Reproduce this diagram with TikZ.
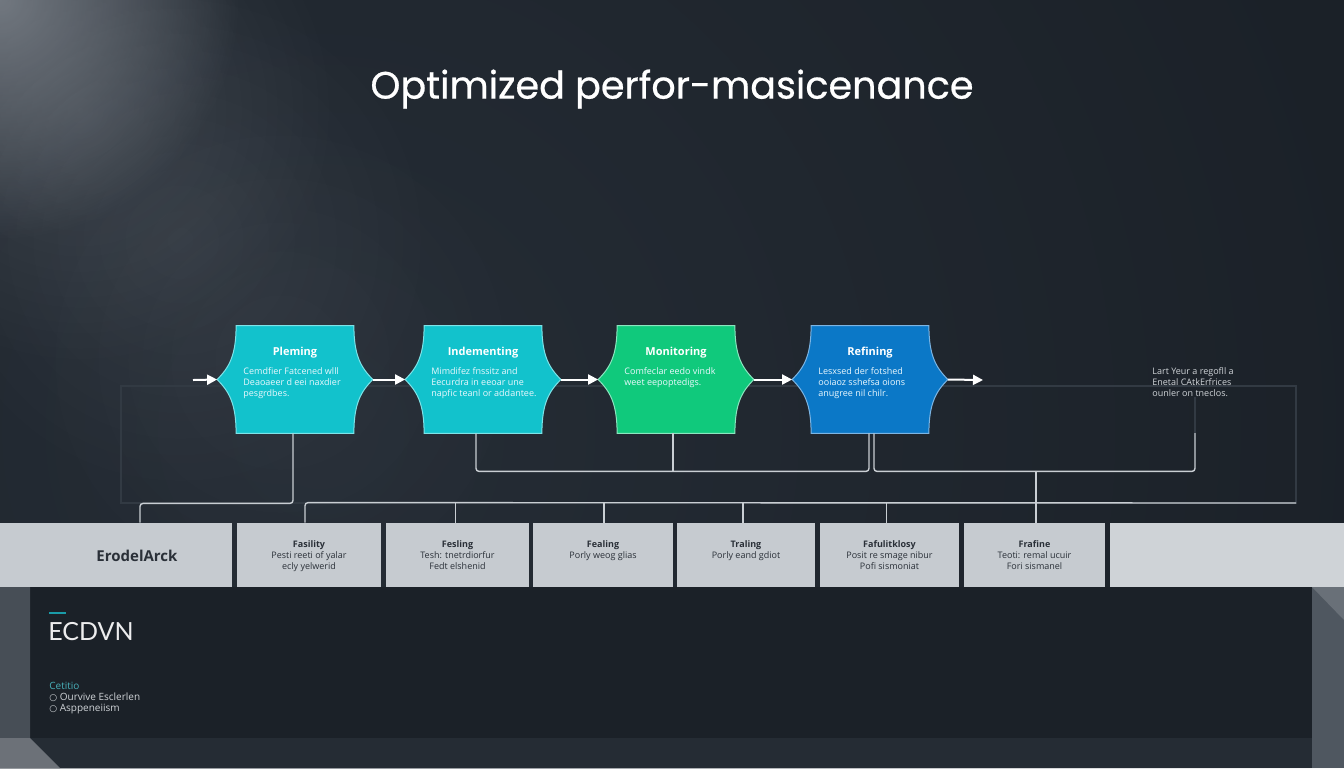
\documentclass[tikz,border=0pt]{standalone}
\usepackage{fontspec}
\setmainfont{Open Sans}
\newfontfamily\titlefont{Poppins}[FakeBold=0.6]
\newfontfamily\latofont{Lato}
\newfontfamily\djv{DejaVu Sans}
\usetikzlibrary{arrows.meta,calc,fadings}
\definecolor{bg}{HTML}{1B2128}
\definecolor{bgmid}{HTML}{2A323C}
\definecolor{glow}{HTML}{8A9098}
\definecolor{cyanA}{HTML}{12C2CC}
\definecolor{cyanB}{HTML}{7EE3E8}
\definecolor{greenA}{HTML}{10C97C}
\definecolor{greenB}{HTML}{8BE6BF}
\definecolor{blueA}{HTML}{0B78C7}
\definecolor{blueB}{HTML}{7DB5E3}
\definecolor{linec}{HTML}{C9CED3}
\definecolor{dimline}{HTML}{323A43}
\definecolor{boxc}{HTML}{C6CBD0}
\definecolor{boxtext}{HTML}{2A3038}
\definecolor{panel}{HTML}{1B2128}
\definecolor{strip}{HTML}{252C34}
\definecolor{bevelL}{HTML}{474E56}
\definecolor{bevelR}{HTML}{4F5760}
\definecolor{teal}{HTML}{1A9BA8}
\definecolor{softw}{HTML}{D0D4D8}
\tikzfading[name=radfade, inner color=transparent!0, outer color=transparent!100]
\tikzset{
  procbox/.style={shape=rectangle, inner sep=0pt, minimum width=77.5pt, minimum height=53.5pt},
  proctitle/.style={text=white, font=\bfseries\fontsize{5.5}{6.5}\selectfont, inner sep=0pt},
  procbody/.style={anchor=north west, text=white!92!cyan, align=left, font=\fontsize{4.5}{5.5}\selectfont, inner sep=0pt},
  conn/.style={draw=linec, line width=0.7pt, rounded corners=1.5pt},
  arr/.style={draw=white, line width=1pt, -{Triangle[length=5pt,width=5pt]}},
  bbx/.style={shape=rectangle, fill=boxc, inner sep=0pt, minimum height=32pt},
  btext/.style={anchor=north, text=boxtext, align=center, font=\fontsize{4.5}{5.5}\selectfont, inner sep=0pt},
  glowspot/.style={fill=glow, path fading=radfade},
}
\newcommand\procnode[6]{%
  \node[procbox] (#1) at (#2,379.5) {};
  \path[fill=#3, draw=#4, line width=0.5pt]
    ($(#1.north west)+(19,0)$) -- ($(#1.north east)+(-19,0)$)
    .. controls +(0,30) and +(-12,-12) .. (#1.east)
    .. controls +(-12,12) and +(0,-30) .. ($(#1.south east)+(-19,0)$)
    -- ($(#1.south west)+(19,0)$)
    .. controls +(0,-30) and +(12,12) .. (#1.west)
    .. controls +(12,-12) and +(0,30) .. ($(#1.north west)+(19,0)$) -- cycle;
  \node[proctitle] (#1t) at ($(#1.center)+(0,-27)$) {#5};
  \node[procbody] (#1b) at ($(#1.center)+(-52,-12.5)$) {#6};
}
\begin{document}
\begin{tikzpicture}[x=0.5pt,y=-0.5pt]
\useasboundingbox (0,0) rectangle (1344,768);
% background
\fill[bg] (0,0) rectangle (1344,768);
\begin{scope}
  \clip (0,0) rectangle (1344,768);
  \fill[bgmid, path fading=radfade, fill opacity=0.7] (320,430) circle (1100);
  \fill[glowspot, fill opacity=0.75] (0,0) circle (240);
  \fill[glowspot, fill opacity=0.2] (80,110) circle (260);
  \fill[glowspot, fill opacity=0.12] (180,240) circle (260);
  \fill[glowspot, fill opacity=0.07] (280,360) circle (260);
\end{scope}
% title
\node[text=white, font=\titlefont, inner sep=0pt] (title) at (672,89) {\resizebox{301.5pt}{!}{Optimized perfor-masicenance}};
% faint outline
\draw[dimline, line width=0.6pt] (121,386) rectangle (1296,503);
% process nodes
\procnode{p1}{295}{cyanA}{cyanB}{Pleming}{Cemdfier Fatcened wlll\\Deaoaeer d eei naxdier\\pesgrdbes.}
\procnode{p2}{483}{cyanA}{cyanB}{Indementing}{Mimdifez fnssitz and\\Eecurdra in eeoar une\\napfic teanl or addantee.}
\procnode{p3}{676}{greenA}{greenB}{Monitoring}{Comfeclar eedo vindk\\weet eepoptedigs.}
\procnode{p4}{870}{blueA}{blueB}{Refining}{Lesxsed der fotshed\\ooiaoz sshefsa oions\\anugree nil chilr.}
% right note
\node[anchor=north west, text=softw, align=left, font=\fontsize{4.5}{5.5}\selectfont, inner sep=0pt] (rt) at (1152,367) {Lart Yeur a regofll a\\Enetal CAtkErfrices\\ounler on tneclos.};
% arrows
\coordinate (a0) at (193,380);
\coordinate (a5) at (983,380);
\draw[arr] (a0) -- (p1.west);
\draw[arr] (p1.east) -- (p2.west);
\draw[arr] (p2.east) -- (p3.west);
\draw[arr] (p3.east) -- (p4.west);
\draw[arr] (p4.east) -- (a5);
% bottom boxes
\node[bbx, minimum width=116pt] (b0) at (116,555) {};
\node[bbx, minimum width=72pt] (b1) at (309,555) {};
\node[bbx, minimum width=71.5pt] (b2) at (457.5,555) {};
\node[bbx, minimum width=70pt] (b3) at (603,555) {};
\node[bbx, minimum width=69pt] (b4) at (746,555) {};
\node[bbx, minimum width=69.5pt] (b5) at (889.5,555) {};
\node[bbx, minimum width=70.5pt] (b6) at (1034.5,555) {};
\node[bbx, minimum width=117pt, fill=boxc!85!white] (b7) at (1227,555) {};
\node[text=boxtext, font=\bfseries\fontsize{7.5}{9}\selectfont, inner sep=0pt] (b0t) at (137,556) {ErodelArck};
\node[btext] (b1t) at (309,540) {\textbf{Fasility}\\Pesti reeti of yalar\\ecly yelwerid};
\node[btext] (b2t) at (457.5,540) {\textbf{Fesling}\\Tesh: tnetrdiorfur\\Fedt elshenid};
\node[btext] (b3t) at (603,540) {\textbf{Fealing}\\Porly weog glias};
\node[btext] (b4t) at (746,540) {\textbf{Traling}\\Porly eand gdiot};
\node[btext] (b5t) at (889.5,540) {\textbf{Fafulitklosy}\\Posit re smage nibur\\Pofi sismoniat};
\node[btext] (b6t) at (1034.5,540) {\textbf{Frafine}\\Teoti: remal ucuir\\Fori sismanel};
% connectors
\coordinate (busR) at (1296,503);
\coordinate (rtc) at (1195,433);
\draw[conn] ($(p1.south)+(-2,0)$) -- ++(0,70) -| ($(b0.north)+(24,0)$);
\draw[conn] ($(b1.north)+(-4,0)$) -- ++(0,-20) -- (busR);
\draw[conn] ($(b2.north)+(-2,0)$) -- ++(0,-20);
\draw[conn] ($(b3.north)+(1,0)$) -- ++(0,-20);
\draw[conn] ($(b4.north)+(-3,0)$) -- ++(0,-20);
\draw[conn] ($(b5.north)+(-3,0)$) -- ++(0,-20);
\draw[conn] ($(b6.north)+(1.5,0)$) -- ++(0,-52);
\draw[conn] ($(p2.south)+(-7,0)$) -- ++(0,38) -| ($(p4.south)+(-1,0)$);
\draw[conn] ($(p3.south)+(-3,0)$) -- ++(0,38);
\draw[conn] ($(p4.south)+(4,0)$) -- ++(0,38) -| (rtc);
\draw[dimline, line width=0.6pt] (rtc) -- (rt.south -| rtc);
% bottom panel
\fill[panel] (30,587) rectangle (1312,738);
\fill[strip] (30,738) rectangle (1312,768);
\fill[bevelL] (0,587) -- (30,587) -- (30,738) -- (60,768) -- (0,768) -- cycle;
\fill[bevelL!80!white] (0,738) -- (30,738) -- (60,768) -- (0,768) -- cycle;
\fill[bevelR] (1312,587) rectangle (1344,768);
\fill[bevelR!85!white] (1312,587) -- (1344,587) -- (1344,620) -- cycle;
\draw[teal, line width=1pt] (49,613) -- (66,613);
\node[anchor=base west, text=white!92!bg, font=\latofont\fontsize{12.5}{14}\selectfont, inner sep=0pt] (ecd) at (48,640) {ECDVN};
\node[anchor=base west, text=teal!80!white, font=\fontsize{5}{6}\selectfont, inner sep=0pt] (cet) at (49,689) {Cetitio};
\node[anchor=base west, text=softw, align=left, font=\fontsize{5}{5.7}\selectfont, inner sep=0pt] (lst) at (49,700) {{\djv\fontsize{4.5}{5}\selectfont ○} Ourvive Esclerlen};
\node[anchor=base west, text=softw, align=left, font=\fontsize{5}{5.7}\selectfont, inner sep=0pt] (lst2) at (49,711.5) {{\djv\fontsize{4.5}{5}\selectfont ○} Asppeneiism};
\end{tikzpicture}
\end{document}
